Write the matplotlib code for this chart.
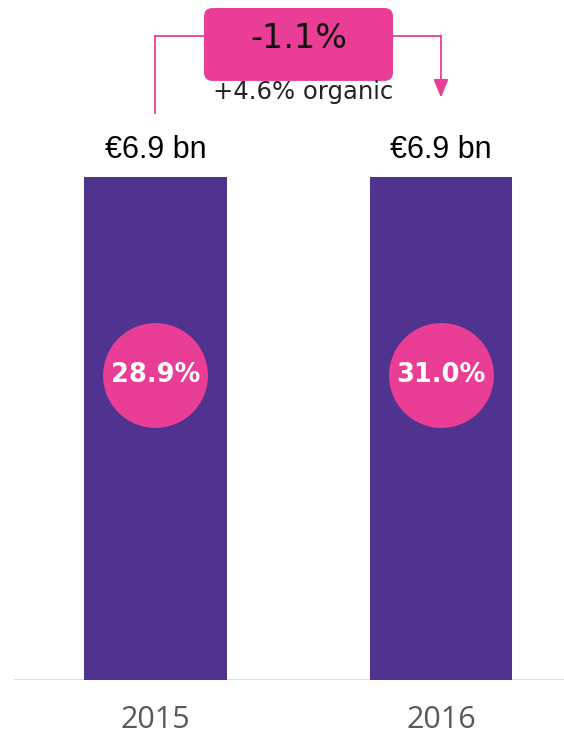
import matplotlib
matplotlib.use('Agg')
import matplotlib.pyplot as plt
from matplotlib.patches import FancyBboxPatch

# data
years = ['2015', '2016']
revenue = [6.9, 6.9]
revenue_labels = ['€6.9 bn', '€6.9 bn']
margins = ['28.9%', '31.0%']
change_label = '-1.1%'
organic_label = '+4.6% organic'

purple = '#4F338E'
pink = '#EA3E96'

fig = plt.figure(figsize=(5.64, 7.39), dpi=100)
ax = fig.add_axes([14 / 564, 59 / 739, 550 / 564, 680 / 739])

x = list(range(len(years)))
ax.bar(x, revenue, width=0.5, color=purple, zorder=2)
ax.set_xlim(-0.4956, 1.431)
ax.set_ylim(0, 9.328)

# value labels above bars
for i, (v, lab) in enumerate(zip(revenue, revenue_labels)):
    ax.text(i, v + 0.16, lab, ha='center', va='bottom', fontsize=22,
            family='Liberation Sans', color='black')

# margin circles
for i, (v, m) in enumerate(zip(revenue, margins)):
    ax.scatter(i, v * 0.607, s=5700, color=pink, zorder=3, linewidths=0)
    ax.text(i, v * 0.607, m, ha='center', va='center', fontsize=18.5,
            fontweight='bold', family='DejaVu Sans', color='white', zorder=4)

# bracket with change
y_line = 8.834
ax.plot([0, 0], [7.778, y_line], color=pink, lw=1.3, zorder=1)
ax.plot([0, 0.17], [y_line, y_line], color=pink, lw=1.3, zorder=1)
ax.plot([0.832, 1], [y_line, y_line], color=pink, lw=1.3, zorder=1)
ax.annotate('', xy=(1, 7.99), xytext=(1, y_line + 0.01),
            arrowprops=dict(arrowstyle='-|>,head_length=1.1,head_width=0.45',
                            color=pink, lw=1.3, shrinkA=0, shrinkB=0))
box = FancyBboxPatch((0.17, 8.218), 0.662, 1.0,
                     boxstyle='round,pad=0,rounding_size=0.03',
                     mutation_aspect=3.92, facecolor=pink, edgecolor='none',
                     zorder=2)
ax.add_patch(box)
ax.text(0.502, 8.80, change_label, ha='center', va='center', fontsize=24,
        family='DejaVu Sans', color='#111111', zorder=3)
ax.text(0.518, 8.06, organic_label, ha='center', va='center', fontsize=17.5,
        family='DejaVu Sans', color='#222222')

ax.axhline(0, color='#d9d9d9', lw=2, zorder=1)
for s in ax.spines.values():
    s.set_visible(False)
ax.set_yticks([])
ax.set_xticks(x)
ax.set_xticklabels(years, fontsize=22, color='#595959', family='Open Sans')
ax.tick_params(axis='x', length=0, pad=18)

fig.savefig('out.png', dpi=100)
